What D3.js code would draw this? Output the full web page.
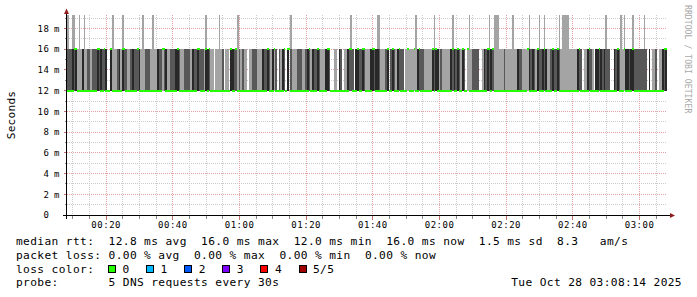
<!DOCTYPE html>
<html><head><meta charset="utf-8">
<script src="https://cdn.jsdelivr.net/npm/d3@7/dist/d3.min.js"></script>
<style>
html,body{margin:0;padding:0;background:#fff;}
svg{display:block;}
</style></head><body>
<svg id="chart" width="697" height="297"></svg>
<script>
// ---------------- data ----------------
const startTime = "2025-10-28T00:08:14Z";
const endTime   = "2025-10-28T03:08:14Z";
const stepSeconds = 30;
const yMaxMs = 19.3;
const smokeLowMs = 12.0, smokeHighMs = 16.0, spikeMs = 19.6;
const medianLowMs = 12.0, medianHighMs = 16.0;
// one code per 30 s sample: w = no smoke, l = outer pair only, d = inner pair, k = dense inner pair
const smokeCodes = [
  "ddd kdk lll kll ddl ddd kdk ddk wwk lll dkl kdd lld kdd dkl lld ddl lll kdd ldk lld ddk kdl ldd",
  "ddl kdd kdd dlk kdl lwl lll dwl lwk kdd ldl dll wll ddd lll kdd kdl kld wdl kdw kwd lll ddd lld",
  "kdl kdd kdl llk kdw wll wkd wll kdd dwk kdd kdl llk kdk kdl lld kwd kdl kdd dwl lll lll kdd dll",
  "lll kdk kld lll llk dkd kdl kdw lll ddd dww lkd kdk dll lll ldl lll lll kdd lll lkd kdl kdd kdk",
  "lld kdd kdl lll lll lll kdd wll kdd lwk kdk dkd ddw wkd kdl llk kdk kdd ddd ddd wkw lld wll kdk"
];
// samples where the slowest ping went off the top of the scale
const spikeSamples = [0,3,4,7,10,27,33,45,51,83,91,102,134,170,186,187,209,220,231,241,253,256,257,258,
  267,277,283,286,295,297,298,299,300,323,332,334,339,346];
// samples where the median was 16 ms
const medianHighSamples = [4,5,18,19,22,26,33,34,42,57,58,66,78,79,83,85,98,101,120,124,130,132,133,145,150,
  156,157,169,170,174,177,178,183,184,192,195,199,204,208,211,219,221,231,234,237,240,252,253,255,276,282,
  286,291,294,307,313,319,330,334,339,358,359];
const yTickValues  = [0,2,4,6,8,10,12,14,16,18];
const yTickNumbers = ["0","2","4","6","8","10","12","14","16","18"];
const yTickUnits   = ["","m","m","m","m","m","m","m","m","m"];
const axisLabel = "Seconds";
const watermark = "RRDTOOL / TOBI OETIKER";
const legendRtt  = [["median rtt:",0],["12.8 ms avg",13],["16.0 ms max",26],["12.0 ms min",39],["16.0 ms now",52],["1.5 ms sd",65],["8.3",76],["am/s",82]];
const legendLoss = [["packet loss:",0],["0.00 % avg",13],["0.00 % max",25],["0.00 % min",37],["0.00 % now",49]];
const lossTitle = "loss color:";
const lossLabels = ["0","1","2","3","4","5/5"];
const lossColors = ["#26ff00","#00b8ff","#0059ff","#7e00ff","#ff0000","#a10000"];
const probeTitle = "probe:";
const probeText = "5 DNS requests every 30s";
const dateText = "Tue Oct 28 03:08:14 2025";

// ---------------- layout ----------------
const X0 = 67, X1 = 667, Y0 = 215, Y1 = 15;
const MONO = "'DejaVu Sans Mono', monospace";
const CH = 7.12, LX = 16;           // legend char grid
const svg = d3.select("#chart");
const t0 = new Date(startTime), t1 = new Date(endTime);
const x = d3.scaleUtc().domain([t0, t1]).range([X0, X1]);
const y = d3.scaleLinear().domain([0, yMaxMs]).range([Y0, Y1]);
const px = v => Math.floor(v) + 0.5;

svg.append("defs").append("clipPath").attr("id","clip")
  .append("rect").attr("x",X0).attr("y",Y1).attr("width",X1-X0).attr("height",Y0-Y1);

// ---------------- grid ----------------
const grid = svg.append("g");
const minorColor = "#cccccc", majorColor = "#e3a0a0";
const minorT = d3.utcMinute.every(5).range(t0, t1).filter(t => t.getUTCMinutes() % 20 !== 0);
const majorT = d3.utcMinute.every(20).range(t0, t1);
const minorV = d3.range(1, 20).filter(v => v % 2 !== 0 && v < yMaxMs);
const majorV = yTickValues.filter(v => v > 0);

grid.selectAll("line.vmin").data(minorT).join("line")
  .attr("x1", d => px(x(d))).attr("x2", d => px(x(d))).attr("y1", Y1).attr("y2", Y0)
  .attr("stroke", minorColor).attr("stroke-dasharray","1,1");
grid.selectAll("line.hmin").data(minorV).join("line")
  .attr("y1", d => px(y(d))).attr("y2", d => px(y(d))).attr("x1", X0).attr("x2", X1)
  .attr("stroke", minorColor).attr("stroke-dasharray","1,1");
grid.selectAll("line.vmaj").data(majorT).join("line")
  .attr("x1", d => px(x(d))).attr("x2", d => px(x(d))).attr("y1", Y1).attr("y2", Y0)
  .attr("stroke", majorColor).attr("stroke-dasharray","1,1");
grid.selectAll("line.hmaj").data(majorV).join("line")
  .attr("y1", d => px(y(d))).attr("y2", d => px(y(d))).attr("x1", X0).attr("x2", X1)
  .attr("stroke", majorColor).attr("stroke-dasharray","1,1");

// ---------------- smoke + median ----------------
const codes = smokeCodes.join("").replace(/\s+/g, "");
const tAt = i => new Date(t0.getTime() + i * stepSeconds * 1000);
const spikeSet = new Set(spikeSamples), medSet = new Set(medianHighSamples);
const samples = d3.range(codes.length).map(i => ({
  i, code: codes[i], spike: spikeSet.has(i),
  top: spikeSet.has(i) ? spikeMs : smokeHighMs,
  med: medSet.has(i) ? medianHighMs : medianLowMs
}));
const plot = svg.append("g").attr("clip-path","url(#clip)").attr("shape-rendering","crispEdges");
const sx = d => x(tAt(d.i)), swd = d => x(tAt(d.i + 1)) - x(tAt(d.i));

plot.selectAll("rect.outer").data(samples.filter(d => d.code !== "w" || d.spike)).join("rect")
  .attr("x", sx).attr("width", swd)
  .attr("y", d => y(d.top)).attr("height", d => y(smokeLowMs) - y(d.top))
  .attr("fill", "#a4a4a4");
const innerColor = {d: "#585858", k: "#282828"};
plot.selectAll("rect.inner").data(samples.filter(d => d.code === "d" || d.code === "k")).join("rect")
  .attr("x", sx).attr("width", swd)
  .attr("y", y(smokeHighMs)).attr("height", y(smokeLowMs) - y(smokeHighMs))
  .attr("fill", d => innerColor[d.code]);
const sw = yMaxMs / 200;
plot.selectAll("rect.med").data(samples).join("rect")
  .attr("x", sx).attr("width", swd)
  .attr("y", d => y(d.med + sw)).attr("height", d => y(d.med - sw) - y(d.med + sw))
  .attr("fill", lossColors[0]);

// ---------------- axes ----------------
const ax = svg.append("g").attr("shape-rendering","crispEdges");
const axY = px(y(0)), axX = px(X0 - 0.5);
ax.selectAll("line.xt").data(minorT).join("line")
  .attr("x1", d => px(x(d))).attr("x2", d => px(x(d))).attr("y1", axY).attr("y2", axY + 3)
  .attr("stroke", "#888");
ax.selectAll("line.xT").data(majorT).join("line")
  .attr("x1", d => px(x(d))).attr("x2", d => px(x(d))).attr("y1", axY).attr("y2", axY + 4)
  .attr("stroke", "#c07070");
ax.selectAll("line.yt").data(minorV).join("line")
  .attr("y1", d => px(y(d))).attr("y2", d => px(y(d))).attr("x1", axX - 2).attr("x2", axX)
  .attr("stroke", "#888");
ax.selectAll("line.yT").data(majorV).join("line")
  .attr("y1", d => px(y(d))).attr("y2", d => px(y(d))).attr("x1", axX - 3).attr("x2", axX)
  .attr("stroke", "#c07070");
ax.append("line").attr("x1", X0 - 4).attr("x2", X1 + 3).attr("y1", axY).attr("y2", axY).attr("stroke", "#000");
ax.append("line").attr("x1", axX).attr("x2", axX).attr("y1", Y0 + 4).attr("y2", Y1 - 2).attr("stroke", "#000");
const arrowC = "#8f1f1f";
svg.append("path").attr("d", `M${axX-2.5},${Y1-1} L${axX},${Y1-6.5} L${axX+2.5},${Y1-1} Z`).attr("fill", arrowC);
svg.append("path").attr("d", `M${X1+3},${axY-2.5} L${X1+8},${axY} L${X1+3},${axY+2.5} Z`).attr("fill", arrowC);

// tick labels
const axisFont = {fs: "9px", ls: "0.52px"};
svg.append("g").selectAll("text").data(majorT).join("text")
  .attr("x", d => x(d)).attr("y", 228).attr("text-anchor","middle")
  .style("font-family", MONO).style("font-size", axisFont.fs).style("letter-spacing", axisFont.ls)
  .text(d3.utcFormat("%H:%M"));
const yl = svg.append("g");
yl.selectAll("text.n").data(yTickValues).join("text")
  .attr("x", 49.5).attr("y", d => y(d) + 3.3).attr("text-anchor","end")
  .style("font-family", MONO).style("font-size", axisFont.fs).style("letter-spacing", axisFont.ls)
  .text((d, i) => yTickNumbers[i]);
yl.selectAll("text.u").data(yTickValues).join("text")
  .attr("x", 54).attr("y", d => y(d) + 3.3)
  .style("font-family", MONO).style("font-size", axisFont.fs)
  .text((d, i) => yTickUnits[i]);

// vertical unit label
svg.append("text").attr("transform", `translate(15,${(Y0+Y1)/2}) rotate(-90)`).attr("text-anchor","middle")
  .style("font-family", MONO).style("font-size","11.2px").style("letter-spacing","0.2px").text(axisLabel);
// watermark
svg.append("text").attr("transform", "translate(685,5) rotate(90)")
  .style("font-family", MONO).style("font-size","8.1px").style("letter-spacing","0.05px")
  .attr("fill", "#a8a8a8").text(watermark);

// ---------------- legend ----------------
const lg = svg.append("g").style("font-family", MONO).style("font-size","11.2px").style("letter-spacing","0.38px");
const rowY = [245, 258.7, 272.5, 286.2];
function row(pieces, yy) {
  lg.append("g").selectAll("text").data(pieces).join("text")
    .attr("x", d => LX + d[1] * CH).attr("y", yy).text(d => d[0]);
}
row(legendRtt, rowY[0]);
row(legendLoss, rowY[1]);
row([[lossTitle, 0]], rowY[2]);
const lossStep = 38.1, lossX0 = 108.5;
lg.selectAll("rect.lc").data(lossColors).join("rect")
  .attr("x", (d, i) => lossX0 + i * lossStep).attr("y", 265.5).attr("width", 7).attr("height", 7)
  .attr("fill", d => d).attr("stroke", "#000").attr("stroke-width", 1).attr("shape-rendering","crispEdges");
lg.selectAll("text.ll").data(lossLabels).join("text")
  .attr("x", (d, i) => lossX0 + i * lossStep + 14).attr("y", rowY[2]).text(d => d);
row([[probeTitle, 0], [probeText, 13]], rowY[3]);
lg.append("text").attr("x", 682).attr("y", rowY[3]).attr("text-anchor","end").text(dateText);
</script>
</body></html>
